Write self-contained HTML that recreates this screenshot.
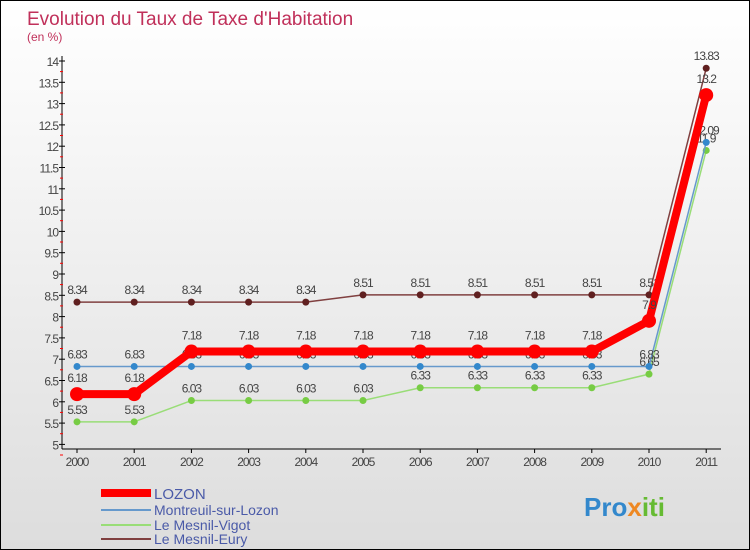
<!DOCTYPE html>
<html><head><meta charset="utf-8"><style>
body{margin:0}
#c{position:relative;width:748px;height:548px;border:1px solid #000;background:linear-gradient(#fff,#ddd);font-family:"Liberation Sans",sans-serif;overflow:hidden}
</style></head><body>
<div id="c">
<svg id="s" width="748" height="548" xmlns="http://www.w3.org/2000/svg">
<text x="26" y="24" font-size="19" fill="#c0305a">Evolution du Taux de Taxe d'Habitation</text>
<text x="26" y="40" font-size="12" fill="#c0305a">(en %)</text>
<g id="g"></g>
<g>
<line x1="100" y1="492" x2="150" y2="492" stroke="#f00" stroke-width="8"/>
<text x="153" y="498" font-size="15" fill="#4a5aa8">LOZON</text>
<line x1="100" y1="509" x2="150" y2="509" stroke="#6699cc" stroke-width="2"/>
<text x="153" y="514" font-size="14" fill="#4a5aa8">Montreuil-sur-Lozon</text>
<line x1="100" y1="524" x2="150" y2="524" stroke="#99dd77" stroke-width="2"/>
<text x="153" y="529" font-size="14" fill="#4a5aa8">Le Mesnil-Vigot</text>
<line x1="100" y1="538" x2="150" y2="538" stroke="#804040" stroke-width="2"/>
<text x="153" y="543" font-size="14" fill="#4a5aa8">Le Mesnil-Eury</text>
</g>
<text x="583" y="515" font-size="26" font-weight="bold" fill="#3388cc">Pro<tspan fill="#ee8822">x</tspan><tspan fill="#66bb33">iti</tspan></text>
</svg>
</div>
<script>
const years=[2000,2001,2002,2003,2004,2005,2006,2007,2008,2009,2010,2011];
const yTicks=[5,5.5,6,6.5,7,7.5,8,8.5,9,9.5,10,10.5,11,11.5,12,12.5,13,13.5,14];
const lozon=[6.18,6.18,7.18,7.18,7.18,7.18,7.18,7.18,7.18,7.18,7.9,13.2];
const montreuil=[6.83,6.83,6.83,6.83,6.83,6.83,6.83,6.83,6.83,6.83,6.83,12.09];
const vigot=[5.53,5.53,6.03,6.03,6.03,6.03,6.33,6.33,6.33,6.33,6.65,11.9];
const eury=[8.34,8.34,8.34,8.34,8.34,8.51,8.51,8.51,8.51,8.51,8.51,13.83];
const NS="http://www.w3.org/2000/svg",g=document.getElementById('g');
const X=i=>76+i*57.2, Y=v=>60+(14-v)*42.6;
function el(t,a){const e=document.createElementNS(NS,t);for(const k in a)e.setAttribute(k,a[k]);g.appendChild(e);return e;}
let e=el('line',{x1:61,y1:55,x2:61,y2:448,stroke:'#000'});


e=el('line',{x1:61,y1:448,x2:720,y2:448,stroke:'#000'});


yTicks.forEach(v=>{
 const y=Y(v);
 const t=el('line',{x1:58,y1:y,x2:64,y2:y,stroke:'#000'});
 
 
 const r=el('line',{x1:59,y1:y+10.6,x2:62,y2:y+10.6,stroke:'#f00'});
 
 
 const l=el('text',{x:57,y:y+5,'font-size':12,fill:'#444','text-anchor':'end','letter-spacing':'-1'});
 l.textContent=v;
 
 
});
years.forEach((yr,i)=>{
 const t=el('line',{x1:X(i),y1:448,x2:X(i),y2:452,stroke:'#000'});
 
 
 const l=el('text',{x:X(i),y:465,'font-size':12,fill:'#444','text-anchor':'middle','letter-spacing':'-1'});
 l.textContent=yr;
 
 
});
function series(d,name,col,w,r,dot,dy){
 const p=el('polyline',{points:d.map((v,i)=>X(i)+','+Y(v)).join(' '),fill:'none',stroke:col,'stroke-width':w,'stroke-linejoin':'round'});
 
 
 d.forEach((v,i)=>{
  const c=el('circle',{cx:X(i),cy:Y(v),r:r,fill:dot});
  
  
  const l=el('text',{x:X(i),y:Y(v)+dy,'font-size':12,fill:'#444','text-anchor':'middle','letter-spacing':'-1'});
  l.textContent=v;
  
  
 });
}
series(vigot,'vigot','#99dd77',1.5,3.5,'#77cc44',-8);
series(montreuil,'montreuil','#6699cc',1.5,3.5,'#3388cc',-8);
series(eury,'eury','#804040',1.5,3.5,'#602020',-8);
series(lozon,'lozon','#f00',8,7,'#f00',-12);
</script>
</body></html>
